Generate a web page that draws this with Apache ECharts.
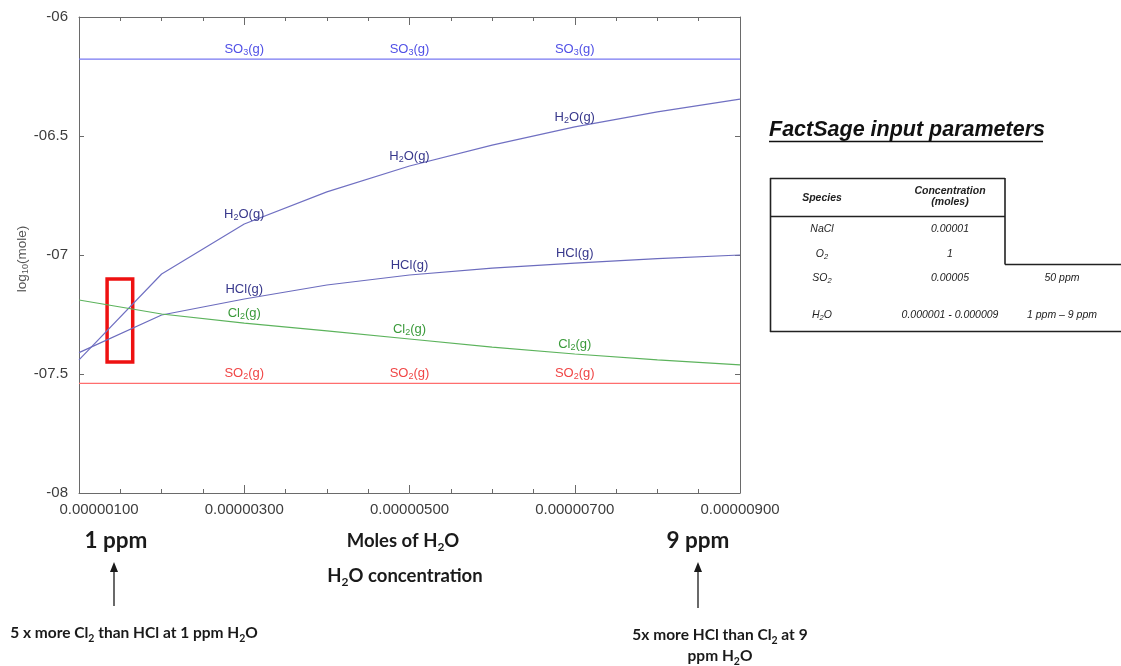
<!DOCTYPE html>
<html>
<head>
<meta charset="utf-8">
<script src="https://cdn.jsdelivr.net/npm/echarts@6/dist/echarts.min.js"></script>
<style>
  html, body { margin: 0; padding: 0; background: #ffffff; }
  #chart { width: 1121px; height: 666px; }
</style>
</head>
<body>
<div id="chart"></div>
<script>
// Moles of H2O fed to the equilibrium calculation
const xMoles = [0.000001, 0.000002, 0.000003, 0.000004, 0.000005, 0.000006, 0.000007, 0.000008, 0.000009];

// log10(mole) of each gas species at equilibrium
const so3 = [-6.177, -6.177, -6.177, -6.177, -6.177, -6.177, -6.177, -6.177, -6.177];
const h2o = [-7.441, -7.080, -6.870, -6.735, -6.626, -6.538, -6.462, -6.399, -6.345];
const hcl = [-7.410, -7.252, -7.185, -7.126, -7.084, -7.055, -7.034, -7.015, -7.000];
const cl2 = [-7.189, -7.248, -7.286, -7.319, -7.353, -7.387, -7.416, -7.441, -7.462];
const so2 = [-7.539, -7.539, -7.539, -7.539, -7.539, -7.539, -7.539, -7.539, -7.539];

// Points along each curve that carry the species name
const labelAt = [2, 4, 6];

// Axis ranges and tick labels
const xRange = [0.000001, 0.000009, 0.000002];
const yRange = [-8, -6, 0.5];
const yTickLabels = ['-08', '-07.5', '-07', '-06.5', '-06'];

// Highlighted region around the Cl2 / HCl crossover (x from, x to, y from, y to)
const highlightBox = [0.00000134, 0.00000165, -7.101, -7.450];

const BASE_FONT = '"Liberation Sans", Arial, sans-serif';
const NOTE_FONT = 'Lato, "Open Sans", sans-serif';

function speciesSeries(name, values, labelRich, lineColor, labelColor) {
  return {
    name: name,
    type: 'line',
    data: xMoles.map((x, i) => [x, values[i]]),
    symbol: 'circle',
    symbolSize: 0,
    showSymbol: true,
    silent: true,
    lineStyle: { color: lineColor, width: 1.2 },
    itemStyle: { color: lineColor },
    label: {
      show: true,
      position: 'top',
      distance: 2,
      formatter: p => labelAt.includes(p.dataIndex) ? labelRich : '',
      rich: {
        b: { fontSize: 13, color: labelColor, fontFamily: BASE_FONT, lineHeight: 16 },
        s: { fontSize: 9, color: labelColor, fontFamily: BASE_FONT, lineHeight: 16, verticalAlign: 'bottom' }
      }
    },
    emphasis: { disabled: true },
    z: 3
  };
}

const chart = echarts.init(document.getElementById('chart'), null, { renderer: 'canvas' });

const axisGray = '#6a6a6a';
const labelGray = '#3d3d3d';

const xAxisCommon = {
  type: 'value',
  min: xRange[0],
  max: xRange[1],
  interval: xRange[2],
  axisLine: { show: true, lineStyle: { color: axisGray, width: 1 } },
  axisTick: { show: true, inside: true, length: 8, lineStyle: { color: axisGray } },
  minorTick: { show: true, splitNumber: 4, length: 4, lineStyle: { color: axisGray } },
  splitLine: { show: false }
};

const yAxisCommon = {
  type: 'value',
  min: yRange[0],
  max: yRange[1],
  interval: yRange[2],
  axisLine: { show: true, onZero: false, lineStyle: { color: axisGray, width: 1 } },
  axisTick: { show: true, inside: true, length: 5, lineStyle: { color: axisGray } },
  splitLine: { show: false }
};

// Annotation texts around the plot
const graphics = [];

// y axis title: log10(mole)
graphics.push({
  type: 'text', x: 22, y: 259, rotation: Math.PI / 2,
  style: {
    text: '{a|log}{s|10}{a|(mole)}',
    align: 'center', verticalAlign: 'middle',
    rich: {
      a: { fontSize: 13.5, fill: '#555', fontFamily: BASE_FONT, lineHeight: 16 },
      s: { fontSize: 9, fill: '#555', fontFamily: BASE_FONT, lineHeight: 16, verticalAlign: 'bottom' }
    }
  }
});

const noteRich = (size, subSize, color) => ({
  a: { fontSize: size, fontWeight: 'bold', fill: color, fontFamily: NOTE_FONT, lineHeight: size + 4 },
  s: { fontSize: subSize, fontWeight: 'bold', fill: color, fontFamily: NOTE_FONT, lineHeight: size + 6, verticalAlign: 'bottom' }
});

function note(x, y, text, size, subSize) {
  graphics.push({
    type: 'text', x: x, y: y,
    style: { text: text, align: 'center', verticalAlign: 'middle', rich: noteRich(size, subSize, '#1a1a1a') }
  });
}

note(116, 541, '{a|1 ppm}', 22.5, 15);
note(698, 541, '{a|9 ppm}', 22.5, 15);
note(403, 541, '{a|Moles of H}{s|2}{a|O}', 18.5, 12);
note(405, 576, '{a|H}{s|2}{a|O concentration}', 18.5, 12);
note(134, 633, '{a|5 x more Cl}{s|2}{a| than HCl at 1 ppm H}{s|2}{a|O}', 15.5, 10.5);
note(720, 635, '{a|5x more HCl than Cl}{s|2}{a| at 9}', 15.5, 10.5);
note(720, 656, '{a|ppm H}{s|2}{a|O}', 15.5, 10.5);

// Arrows pointing up at 1 ppm and 9 ppm
function arrow(x, yTip, yTail) {
  graphics.push({ type: 'line', shape: { x1: x, y1: yTip + 8, x2: x, y2: yTail }, style: { stroke: '#1a1a1a', lineWidth: 1.3 } });
  graphics.push({ type: 'polygon', shape: { points: [[x, yTip], [x - 4, yTip + 10], [x + 4, yTip + 10]] }, style: { fill: '#1a1a1a' } });
}
arrow(114, 562, 606);
arrow(698, 562, 608);

// Input parameter panel
graphics.push({
  type: 'text', x: 769, y: 130,
  style: { text: 'FactSage input parameters', align: 'left', verticalAlign: 'middle',
    font: 'italic bold 21.5px ' + BASE_FONT, fill: '#111' }
});
graphics.push({ type: 'line', shape: { x1: 769, y1: 141.5, x2: 1043, y2: 141.5 }, style: { stroke: '#111', lineWidth: 1.6 } });

const tableLines = [
  [770, 178.5, 1005, 178.5],
  [770, 216.5, 1005, 216.5],
  [1005, 178, 1005, 264.5],
  [1005, 264.5, 1121, 264.5],
  [770, 331.5, 1121, 331.5],
  [770.5, 178, 770.5, 332]
];
tableLines.forEach(l => graphics.push({
  type: 'line', shape: { x1: l[0], y1: l[1], x2: l[2], y2: l[3] }, style: { stroke: '#222', lineWidth: 1.6 }
}));

const cellRich = (bold) => ({
  a: { fontSize: 10.5, fontStyle: 'italic', fontWeight: bold ? 'bold' : 'normal', fill: '#222', fontFamily: BASE_FONT, lineHeight: 12 },
  s: { fontSize: 7.5, fontStyle: 'italic', fill: '#222', fontFamily: BASE_FONT, lineHeight: 14, verticalAlign: 'bottom' }
});
function cell(x, y, text, bold) {
  graphics.push({ type: 'text', x: x, y: y,
    style: { text: text, align: 'center', verticalAlign: 'middle', rich: cellRich(bold) } });
}
cell(822, 198, '{a|Species}', true);
cell(950, 191, '{a|Concentration}', true);
cell(950, 202, '{a|(moles)}', true);
cell(822, 229, '{a|NaCl}');
cell(950, 229, '{a|0.00001}');
cell(822, 254, '{a|O}{s|2}');
cell(950, 254, '{a|1}');
cell(822, 278, '{a|SO}{s|2}');
cell(950, 278, '{a|0.00005}');
cell(1062, 278, '{a|50 ppm}');
cell(822, 315, '{a|H}{s|2}{a|O}');
cell(950, 315, '{a|0.000001 - 0.000009}');
cell(1062, 315, '{a|1 ppm \u2013 9 ppm}');

const so3Series = speciesSeries('SO3(g)', so3, '{b|SO}{s|3}{b|(g)}', '#7878f2', '#5050e6');
const h2oSeries = speciesSeries('H2O(g)', h2o, '{b|H}{s|2}{b|O(g)}', '#7070c2', '#38388c');
const hclSeries = speciesSeries('HCl(g)', hcl, '{b|HCl(g)}', '#6c6cbe', '#38388c');
const cl2Series = speciesSeries('Cl2(g)', cl2, '{b|Cl}{s|2}{b|(g)}', '#5cb35c', '#3a9a3a');
const so2Series = speciesSeries('SO2(g)', so2, '{b|SO}{s|2}{b|(g)}', '#ff6e6e', '#f04646');

cl2Series.markArea = {
  silent: true,
  itemStyle: { color: 'rgba(0,0,0,0)', borderColor: '#ee1111', borderWidth: 3.5 },
  data: [[{ coord: [highlightBox[0], highlightBox[2]] }, { coord: [highlightBox[1], highlightBox[3]] }]]
};

const option = {
  animation: false,
  backgroundColor: '#ffffff',
  grid: { left: 79, right: 381, top: 17, bottom: 173 },
  xAxis: [
    Object.assign({}, xAxisCommon, {
      position: 'bottom',
      axisLabel: {
        show: true, margin: 9, fontSize: 15, color: labelGray, fontFamily: BASE_FONT,
        formatter: v => {
          const t = v.toFixed(8);
          return Math.abs(v - xRange[0]) < 1e-12 ? '{first|' + t + '}' : t;
        },
        rich: { first: { fontSize: 15, color: labelGray, fontFamily: BASE_FONT, padding: [0, 0, 0, 40] } }
      }
    }),
    Object.assign({}, xAxisCommon, { position: 'top', axisLabel: { show: false } })
  ],
  yAxis: [
    Object.assign({}, yAxisCommon, {
      position: 'left',
      axisLabel: {
        show: true, margin: 11, fontSize: 15, color: labelGray, fontFamily: BASE_FONT,
        formatter: v => yTickLabels[Math.round((v - yRange[0]) / yRange[2])]
      }
    }),
    Object.assign({}, yAxisCommon, { position: 'right', axisLabel: { show: false } })
  ],
  series: [so3Series, h2oSeries, hclSeries, cl2Series, so2Series],
  graphic: graphics
};

chart.setOption(option);
</script>
</body>
</html>
